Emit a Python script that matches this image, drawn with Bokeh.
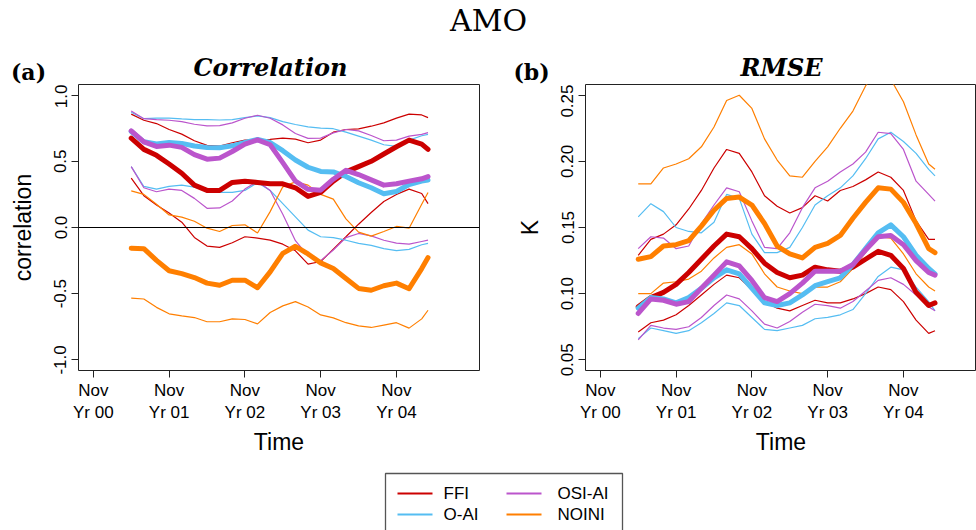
import math
from bokeh.plotting import figure
from bokeh.layouts import column, row
from bokeh.models import Range1d, FixedTicker, Span
from bokeh.core.properties import value
from bokeh.embed import file_html
from bokeh.resources import INLINE

# ---------------- data ----------------
months = [6, 8, 10, 12, 14, 16, 18, 20, 22, 24, 26, 28, 30, 32, 34, 36, 38, 40, 42, 44, 46, 48, 50, 52, 53]

series_names = ["FFI", "O-AI", "OSI-AI", "NOINI"]
series_colors = ["#CC0000", "#55BDF2", "#BB55CC", "#FF7F00"]

x_tick_months = [0, 12, 24, 36, 48]
x_tick_labels = ["Nov\nYr 00", "Nov\nYr 01", "Nov\nYr 02", "Nov\nYr 03", "Nov\nYr 04"]

corr_ticks = [-1.0, -0.5, 0.0, 0.5, 1.0]
corr_tick_labels = ["-1.0", "-0.5", "0.0", "0.5", "1.0"]
rmse_ticks = [0.05, 0.10, 0.15, 0.20, 0.25]
rmse_tick_labels = ["0.05", "0.10", "0.15", "0.20", "0.25"]

# Correlation panel (a)
corr_ffi_mid = [0.675, 0.59, 0.545, 0.48, 0.41, 0.32, 0.28, 0.28, 0.34, 0.35, 0.34, 0.33, 0.33, 0.30, 0.235, 0.265, 0.35, 0.42, 0.46, 0.50, 0.555, 0.61, 0.66, 0.63, 0.59]
corr_ffi_hi = [0.856, 0.81, 0.785, 0.74, 0.705, 0.655, 0.62, 0.615, 0.64, 0.66, 0.66, 0.665, 0.675, 0.667, 0.64, 0.66, 0.72, 0.74, 0.745, 0.765, 0.79, 0.826, 0.856, 0.85, 0.83]
corr_ffi_lo = [0.373, 0.24, 0.17, 0.11, 0.04, -0.075, -0.14, -0.15, -0.115, -0.07, -0.08, -0.095, -0.126, -0.176, -0.277, -0.257, -0.164, -0.07, 0.025, 0.113, 0.196, 0.25, 0.29, 0.257, 0.18]

corr_oai_mid = [0.725, 0.647, 0.63, 0.642, 0.635, 0.615, 0.605, 0.602, 0.617, 0.642, 0.665, 0.642, 0.58, 0.51, 0.455, 0.423, 0.42, 0.385, 0.338, 0.30, 0.255, 0.272, 0.325, 0.35, 0.358]
corr_oai_hi = [0.87, 0.822, 0.826, 0.826, 0.82, 0.815, 0.815, 0.812, 0.815, 0.83, 0.843, 0.83, 0.80, 0.778, 0.76, 0.75, 0.746, 0.72, 0.69, 0.66, 0.625, 0.612, 0.66, 0.693, 0.703]
corr_oai_lo = [0.46, 0.31, 0.29, 0.31, 0.32, 0.305, 0.28, 0.265, 0.265, 0.28, 0.34, 0.28, 0.18, 0.08, -0.02, -0.07, -0.076, -0.096, -0.12, -0.135, -0.16, -0.175, -0.165, -0.13, -0.12]

corr_osi_mid = [0.73, 0.647, 0.612, 0.622, 0.605, 0.55, 0.516, 0.524, 0.574, 0.63, 0.662, 0.625, 0.49, 0.35, 0.288, 0.282, 0.365, 0.432, 0.40, 0.36, 0.32, 0.33, 0.35, 0.368, 0.385]
corr_osi_hi = [0.88, 0.822, 0.815, 0.81, 0.80, 0.78, 0.768, 0.77, 0.79, 0.825, 0.848, 0.825, 0.775, 0.71, 0.673, 0.675, 0.715, 0.74, 0.73, 0.695, 0.655, 0.66, 0.69, 0.703, 0.716]
corr_osi_lo = [0.46, 0.30, 0.27, 0.29, 0.28, 0.22, 0.145, 0.148, 0.20, 0.29, 0.35, 0.28, 0.10, -0.10, -0.215, -0.25, -0.17, -0.076, -0.045, -0.063, -0.096, -0.118, -0.126, -0.106, -0.096]

corr_noini_mid = [-0.156, -0.16, -0.248, -0.327, -0.348, -0.378, -0.42, -0.436, -0.398, -0.398, -0.455, -0.335, -0.195, -0.142, -0.2, -0.267, -0.31, -0.385, -0.46, -0.474, -0.44, -0.42, -0.462, -0.31, -0.227]
corr_noini_hi = [0.277, 0.25, 0.176, 0.095, 0.078, 0.047, -0.005, -0.03, 0.015, 0.02, -0.042, 0.12, 0.307, 0.345, 0.32, 0.25, 0.214, 0.065, -0.035, -0.065, -0.03, 0.008, -0.005, 0.176, 0.264]
corr_noini_lo = [-0.534, -0.54, -0.603, -0.652, -0.667, -0.68, -0.712, -0.712, -0.69, -0.695, -0.728, -0.642, -0.592, -0.56, -0.60, -0.66, -0.683, -0.719, -0.743, -0.755, -0.737, -0.719, -0.76, -0.69, -0.625]

# RMSE panel (b), K
rmse_ffi_mid = [0.090, 0.097, 0.101, 0.107, 0.116, 0.126, 0.136, 0.145, 0.143, 0.134, 0.123, 0.116, 0.112, 0.114, 0.120, 0.118, 0.117, 0.120, 0.126, 0.132, 0.129, 0.119, 0.101, 0.091, 0.093]
rmse_ffi_hi = [0.129, 0.141, 0.145, 0.152, 0.164, 0.178, 0.195, 0.209, 0.206, 0.192, 0.174, 0.166, 0.161, 0.165, 0.174, 0.170, 0.178, 0.181, 0.186, 0.192, 0.188, 0.178, 0.155, 0.141, 0.141]
rmse_ffi_lo = [0.071, 0.078, 0.080, 0.084, 0.091, 0.099, 0.107, 0.114, 0.112, 0.103, 0.094, 0.089, 0.087, 0.091, 0.095, 0.093, 0.093, 0.096, 0.100, 0.105, 0.103, 0.094, 0.080, 0.070, 0.072]

rmse_oai_mid = [0.089, 0.097, 0.096, 0.093, 0.097, 0.104, 0.112, 0.118, 0.115, 0.104, 0.093, 0.091, 0.093, 0.099, 0.106, 0.109, 0.112, 0.122, 0.134, 0.146, 0.152, 0.143, 0.129, 0.119, 0.115]
rmse_oai_hi = [0.158, 0.168, 0.162, 0.150, 0.147, 0.146, 0.154, 0.175, 0.172, 0.145, 0.131, 0.131, 0.135, 0.150, 0.167, 0.174, 0.180, 0.189, 0.202, 0.217, 0.222, 0.215, 0.206, 0.194, 0.189]
rmse_oai_lo = [0.066, 0.074, 0.072, 0.070, 0.072, 0.078, 0.085, 0.093, 0.091, 0.082, 0.073, 0.072, 0.074, 0.076, 0.081, 0.082, 0.084, 0.088, 0.100, 0.113, 0.120, 0.118, 0.105, 0.094, 0.087]

rmse_osi_mid = [0.085, 0.096, 0.095, 0.092, 0.094, 0.104, 0.114, 0.124, 0.121, 0.110, 0.097, 0.094, 0.100, 0.108, 0.117, 0.117, 0.117, 0.122, 0.133, 0.143, 0.144, 0.137, 0.125, 0.116, 0.114]
rmse_osi_hi = [0.134, 0.143, 0.142, 0.134, 0.136, 0.153, 0.167, 0.180, 0.177, 0.155, 0.135, 0.134, 0.146, 0.165, 0.180, 0.185, 0.192, 0.198, 0.207, 0.222, 0.221, 0.209, 0.185, 0.175, 0.170]
rmse_osi_lo = [0.065, 0.076, 0.074, 0.073, 0.075, 0.082, 0.091, 0.099, 0.096, 0.087, 0.077, 0.074, 0.079, 0.086, 0.092, 0.091, 0.089, 0.094, 0.102, 0.110, 0.112, 0.107, 0.099, 0.090, 0.087]

rmse_noini_mid = [0.126, 0.128, 0.136, 0.137, 0.140, 0.151, 0.163, 0.172, 0.173, 0.167, 0.153, 0.136, 0.130, 0.127, 0.135, 0.138, 0.144, 0.157, 0.169, 0.180, 0.179, 0.169, 0.153, 0.134, 0.131]
rmse_noini_hi = [0.183, 0.183, 0.195, 0.198, 0.202, 0.211, 0.226, 0.246, 0.250, 0.240, 0.217, 0.201, 0.189, 0.188, 0.200, 0.211, 0.225, 0.238, 0.257, 0.270, 0.262, 0.245, 0.220, 0.198, 0.194]
rmse_noini_lo = [0.100, 0.100, 0.108, 0.109, 0.111, 0.117, 0.127, 0.135, 0.137, 0.130, 0.115, 0.105, 0.102, 0.100, 0.105, 0.105, 0.109, 0.119, 0.131, 0.143, 0.142, 0.130, 0.115, 0.105, 0.102]

corr_series = [
    (corr_ffi_mid, corr_ffi_lo, corr_ffi_hi),
    (corr_oai_mid, corr_oai_lo, corr_oai_hi),
    (corr_osi_mid, corr_osi_lo, corr_osi_hi),
    (corr_noini_mid, corr_noini_lo, corr_noini_hi),
]
rmse_series = [
    (rmse_ffi_mid, rmse_ffi_lo, rmse_ffi_hi),
    (rmse_oai_mid, rmse_oai_lo, rmse_oai_hi),
    (rmse_osi_mid, rmse_osi_lo, rmse_osi_hi),
    (rmse_noini_mid, rmse_noini_lo, rmse_noini_hi),
]

SANS = "Liberation Sans"
SERIF = "DejaVu Serif"


def make_panel(width, border_left, border_right, x_end, y_lim, ticks, tick_labels, ylabel, series, zero_line):
    p = figure(width=width, height=386, output_backend="svg", toolbar_location=None,
               x_range=Range1d(-2.35, x_end), y_range=Range1d(*y_lim),
               min_border_left=border_left, min_border_right=border_right,
               min_border_top=0, min_border_bottom=100)
    p.grid.visible = False
    p.outline_line_color = "#222222"
    p.outline_line_width = 1
    p.background_fill_color = "white"
    p.border_fill_color = "white"

    xa = p.xaxis[0]
    xa.ticker = FixedTicker(ticks=x_tick_months)
    xa.major_label_overrides = {m: lab for m, lab in zip(x_tick_months, x_tick_labels)}
    xa.axis_line_color = None
    xa.major_tick_out = 7
    xa.major_tick_in = 0
    xa.major_tick_line_color = "#222222"
    xa.minor_tick_line_color = None
    xa.major_label_text_font = SANS
    xa.major_label_text_font_size = "17px"
    xa.major_label_text_color = "black"
    xa.major_label_standoff = 3
    xa.axis_label = "Time"
    xa.axis_label_text_font = SANS
    xa.axis_label_text_font_size = "23px"
    xa.axis_label_text_font_style = "normal"
    xa.axis_label_text_color = "black"
    xa.axis_label_standoff = 4

    ya = p.yaxis[0]
    ya.ticker = FixedTicker(ticks=ticks)
    ya.major_label_overrides = {t: lab for t, lab in zip(ticks, tick_labels)}
    ya.axis_line_color = None
    ya.major_tick_out = 7
    ya.major_tick_in = 0
    ya.major_tick_line_color = "#222222"
    ya.minor_tick_line_color = None
    ya.major_label_orientation = "parallel"
    ya.major_label_text_font = SANS
    ya.major_label_text_font_size = "17px"
    ya.major_label_text_color = "black"
    ya.major_label_standoff = 5
    ya.axis_label = ylabel
    ya.axis_label_text_font = SANS
    ya.axis_label_text_font_size = "23px"
    ya.axis_label_text_font_style = "normal"
    ya.axis_label_text_color = "black"
    ya.axis_label_standoff = 16

    if zero_line:
        p.add_layout(Span(location=0, dimension="width", line_color="black", line_width=1))

    for (mid, lo, hi), col in zip(series, series_colors):
        p.line(months, hi, line_color=col, line_width=1.2)
        p.line(months, lo, line_color=col, line_width=1.2)
    for (mid, lo, hi), col in zip(series, series_colors):
        p.line(months, mid, line_color=col, line_width=5, line_join="round", line_cap="round")
    return p


left = make_panel(488, 78, 9, 61.15, (-1.08, 1.08), corr_ticks, corr_tick_labels,
                  "correlation", corr_series, True)
right = make_panel(488, 97, 0, 59.57, (0.0419, 0.2581), rmse_ticks, rmse_tick_labels,
                   "K", rmse_series, False)

# ---------------- titles strip ----------------
top = figure(width=976, height=84, output_backend="svg", toolbar_location=None,
             x_range=Range1d(0, 976), y_range=Range1d(84, 0),
             min_border=0, x_axis_type=None, y_axis_type=None)
top.grid.visible = False
top.outline_line_color = None
top.text(x=[488], y=[20], text=["AMO"], text_font=value(SERIF), text_font_size="30px",
         text_align="center", text_baseline="middle", text_color="black")
top.text(x=[28, 531], y=[71, 71], text=["(a)", "(b)"], text_font=value(SERIF),
         text_font_size="22px", text_font_style="bold", text_align="center",
         text_baseline="middle", text_color="black")
top.text(x=[270, 781], y=[67, 67], text=["Correlation", "RMSE"], text_font=value(SERIF),
         text_font_size="24px", text_font_style="bold italic", text_align="center",
         text_baseline="middle", text_color="black")

# ---------------- legend strip ----------------
leg = figure(width=976, height=60, output_backend="svg", toolbar_location=None,
             x_range=Range1d(0, 976), y_range=Range1d(60, 0),
             min_border=0, x_axis_type=None, y_axis_type=None)
leg.grid.visible = False
leg.outline_line_color = None
leg.quad(left=[385], right=[622], top=[3], bottom=[80], fill_color=None,
         line_color="#555555", line_width=1.3)
col_line_x0 = [397, 506]
col_text_x = [443, 557]
row_y = [23, 44]
for i, (name, colr) in enumerate(zip(series_names, series_colors)):
    c, r = i // 2, i % 2
    leg.line([col_line_x0[c], col_line_x0[c] + 35], [row_y[r], row_y[r]], line_color=colr, line_width=2)
    leg.text(x=[col_text_x[c]], y=[row_y[r]], text=[name], text_font=value(SANS),
             text_font_size="17px", text_align="left", text_baseline="middle", text_color="black")

layout = column(top, row(left, right), leg)
open("out.html", "w").write(file_html(layout, INLINE))
